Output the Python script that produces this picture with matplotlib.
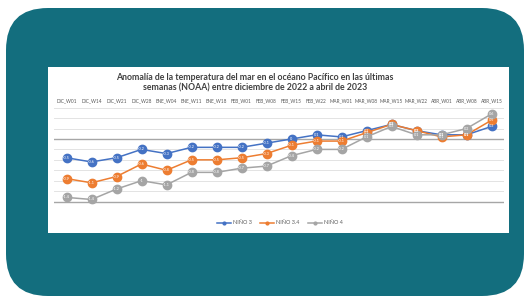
import matplotlib
matplotlib.use("Agg")
import matplotlib.pyplot as plt
from matplotlib.patches import FancyBboxPatch, Rectangle

# datos (anomalia en grados C)
semanas = ["DIC_W01", "DIC_W14", "DIC_W21", "DIC_W28", "ENE_W04", "ENE_W11",
           "ENE_W18", "FEB_W01", "FEB_W08", "FEB_W15", "FEB_W22", "MAR_W01",
           "MAR_W08", "MAR_W15", "MAR_W22", "ABR_W01", "ABR_W08", "ABR_W15"]
nino3 = [-0.45, -0.55, -0.45, -0.25, -0.35, -0.2, -0.2, -0.2, -0.1, 0.0,
         0.1, 0.05, 0.2, 0.35, 0.2, 0.1, 0.1, 0.3]
nino34 = [-0.95, -1.05, -0.9, -0.6, -0.75, -0.5, -0.5, -0.45, -0.35, -0.15,
          -0.05, -0.05, 0.15, 0.35, 0.2, 0.05, 0.1, 0.45]
nino4 = [-1.4, -1.45, -1.2, -1.0, -1.1, -0.8, -0.8, -0.7, -0.65, -0.4,
         -0.25, -0.25, 0.05, 0.3, 0.1, 0.1, 0.25, 0.6]
series = [("NIÑO 3", nino3, "#4472C4"),
          ("NIÑO 3.4", nino34, "#ED7D31"),
          ("NIÑO 4", nino4, "#A5A5A5")]
yticks = [-1.75, -1.5, -1.25, -1.0, -0.75, -0.5, -0.25, 0.0, 0.25, 0.5, 0.75]

W, H = 524, 296
fig = plt.figure(figsize=(W / 100, H / 100), dpi=100)

# fondo en coordenadas de pixel
bg = fig.add_axes([0, 0, 1, 1])
bg.set_xlim(0, W)
bg.set_ylim(H, 0)
bg.axis("off")
bg.add_patch(FancyBboxPatch((6, 8), 518, 288, boxstyle="round,pad=0,rounding_size=42",
                            fc="#136E7E", ec="none"))
bg.add_patch(Rectangle((48, 67), 461, 166, fc="white", ec="none"))
bg.text(255, 77, "Anomalía de la temperatura del mar en el océano Pacífico en las últimas",
        ha="center", va="center", fontsize=6.3, fontweight="bold", color="#404040",
        family="Lato")
bg.text(255, 88, "semanas (NOAA) entre diciembre de 2022 a abril de 2023",
        ha="center", va="center", fontsize=6.3, fontweight="bold", color="#404040",
        family="Lato")

# grafico
ax = fig.add_axes([54 / W, 1 - 212 / H, 450 / W, (212 - 107.7) / H])
ax.patch.set_alpha(0)
for s in ax.spines.values():
    s.set_visible(False)
ax.set_xlim(-0.5, len(semanas) - 0.5)
ax.set_ylim(-1.75, 0.75)
for t in yticks:
    dark = t in (0.0, -1.5)
    ax.axhline(t, color="#A6A6A6" if dark else "#E3E3E3", lw=1.0 if dark else 0.7, zorder=0)
ax.set_yticks([])
ax.set_xticks(range(len(semanas)))
ax.set_xticklabels(semanas, fontsize=3.4, color="#595959", family="Lato")
ax.tick_params(axis="x", length=0, top=False, bottom=False, labeltop=True,
               labelbottom=False, pad=3.5)

x = list(range(len(semanas)))
for nombre, vals, col in series:
    ax.plot(x, vals, color=col, lw=1.1, marker="o", ms=6, mec=col, mfc=col,
            label=nombre, zorder=3)
    for xi, v in zip(x, vals):
        ax.text(xi, v, "%g" % round(v, 1), ha="center", va="center", fontsize=2.8,
                color="white", zorder=4, family="Lato")

fig.legend([plt.Line2D([], [], color=c, lw=1.1, marker="o", ms=2) for _, _, c in series],
           [n for n, _, _ in series], loc="center", bbox_to_anchor=(280 / W, 1 - 223 / H),
           ncol=3, frameon=False, prop={"family": "Lato", "size": 4}, labelcolor="#595959",
           handlelength=2.5, columnspacing=1.5, handletextpad=0.4)

fig.savefig("out.png", dpi=100)
